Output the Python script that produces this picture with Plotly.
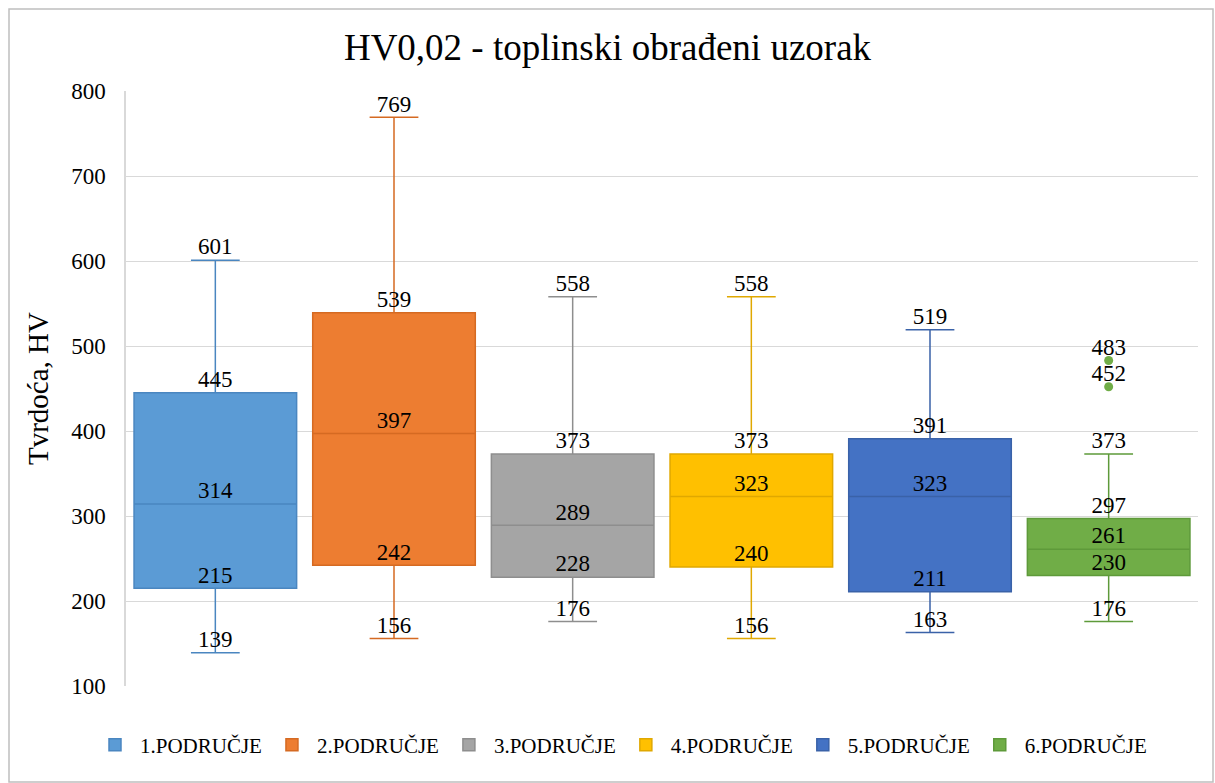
import plotly.graph_objects as go

# Hardness statistics per zone (HV0,02, heat-treated sample)
zones = ["1.PODRUČJE", "2.PODRUČJE", "3.PODRUČJE", "4.PODRUČJE", "5.PODRUČJE", "6.PODRUČJE"]
lower = [139, 156, 176, 156, 163, 176]
q1 = [215, 242, 228, 240, 211, 230]
median = [314, 397, 289, 323, 323, 261]
q3 = [445, 539, 373, 373, 391, 297]
upper = [601, 769, 558, 558, 519, 373]
outliers = [[], [], [], [], [], [483, 452]]

fills = ["#5B9BD5", "#ED7D31", "#A5A5A5", "#FFC000", "#4472C4", "#70AD47"]
edges = ["#4A86C0", "#D56A22", "#8E8E8E", "#E0A800", "#3A62A8", "#5E9A3A"]

FONT = "Liberation Serif"

fig = go.Figure()
for i, name in enumerate(zones):
    pos = i + 1
    fig.add_trace(go.Box(
        name=name,
        x=[pos],
        q1=[q1[i]], median=[median[i]], q3=[q3[i]],
        lowerfence=[lower[i]], upperfence=[upper[i]],
        width=0.91, whiskerwidth=0.3,
        fillcolor=fills[i],
        line=dict(color=edges[i], width=1.5),
        boxpoints=False,
        showlegend=True,
    ))
    if outliers[i]:
        fig.add_trace(go.Scatter(
            x=[pos] * len(outliers[i]), y=outliers[i], mode="markers",
            marker=dict(color=fills[i], size=9),
            showlegend=False, hoverinfo="y",
        ))
    vals = [upper[i], q3[i], median[i], q1[i], lower[i]] + outliers[i]
    fig.add_trace(go.Scatter(
        x=[pos] * len(vals), y=vals, mode="text",
        text=[str(v) for v in vals], textposition="top center",
        textfont=dict(family=FONT, size=23, color="#000000"),
        showlegend=False, hoverinfo="skip",
    ))

left, right, top, bottom = 126, 17, 91, 97
pw = 1215 - left - right
ph = 783 - top - bottom

fig.update_layout(
    width=1215, height=783,
    margin=dict(l=left, r=right, t=top, b=bottom),
    paper_bgcolor="white", plot_bgcolor="white",
    font=dict(family=FONT, color="#000000"),
    title=dict(text="HV0,02 - toplinski obrađeni uzorak", x=0.5, xanchor="center",
               y=1 - 47 / 783, yanchor="middle",
               font=dict(family=FONT, size=37, color="#000000")),
    xaxis=dict(range=[0.5, 6.5], showticklabels=False, showgrid=False,
               zeroline=False, showline=False, ticks=""),
    yaxis=dict(range=[100, 800], dtick=100, tickfont=dict(family=FONT, size=23),
               gridcolor="#D9D9D9", gridwidth=1, zeroline=False,
               showline=True, linecolor="#D9D9D9", linewidth=1.5, ticks="", ticklen=0,
               ticklabelstandoff=14,
               title=dict(text="Tvrdoća, HV", font=dict(family=FONT, size=29), standoff=14)),
    legend=dict(orientation="h", x=(621 - left) / pw, xanchor="center",
                y=-(745 - 686) / ph, yanchor="middle",
                font=dict(family=FONT, size=21), itemwidth=40, tracegroupgap=0),
    shapes=[dict(type="rect", xref="paper", yref="paper",
                 x0=(9 - left) / pw, x1=(1213 - left) / pw,
                 y0=(783 - bottom - 782) / ph, y1=(783 - bottom - 9) / ph,
                 line=dict(color="#BFBFBF", width=1.5), fillcolor="rgba(0,0,0,0)", layer="below")],
)

fig.write_html("out.html")
